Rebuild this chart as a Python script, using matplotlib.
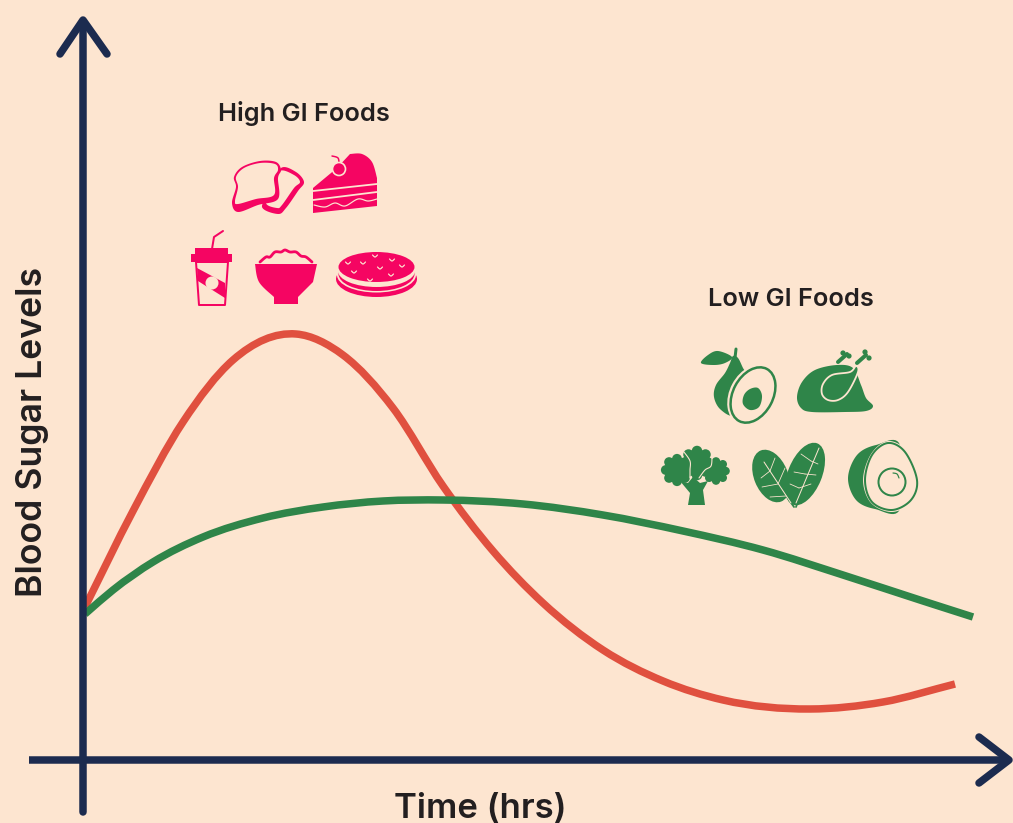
import numpy as np
import matplotlib
matplotlib.use('Agg')
import matplotlib.pyplot as plt
from matplotlib.patches import Circle, Ellipse, Polygon, PathPatch
from matplotlib.path import Path

# Values (hours, blood sugar in chart units)
time_high = [0.02, 0.5, 1.0, 1.5, 2.13, 2.6, 3.1, 3.6, 4.1, 4.6, 5.2, 5.8, 6.4, 7.27, 8.0, 8.72]
level_high = [1.53, 2.49, 3.38, 4.00, 4.26, 4.05, 3.52, 2.74, 2.09, 1.57, 1.10, 0.79, 0.60, 0.51, 0.58, 0.76]
time_low = [0.02, 0.3, 0.7, 1.2, 1.8, 2.4, 3.0, 3.6, 4.4, 5.2, 6.0, 6.8, 7.6, 8.4, 8.9]
level_low = [1.46, 1.70, 1.98, 2.23, 2.42, 2.53, 2.59, 2.60, 2.56, 2.45, 2.29, 2.10, 1.85, 1.59, 1.43]

BG = '#fde5d0'
NAVY = '#1c2b4f'
RED = '#e0503f'
GREEN = '#2f8549'
PINK = '#f50562'
INK = '#231f20'
PX = 0.72  # one pixel in points at dpi 100

plt.rcParams['font.family'] = ['Inter', 'DejaVu Sans']

fig = plt.figure(figsize=(10.13, 8.23), dpi=100, facecolor=BG)


def spline_path(xs, ys):
    # bezier segments through the read values, the curves are smooth splines in the picture
    xs = np.array(xs, dtype=float)
    ys = np.array(ys, dtype=float)
    m = np.gradient(ys, xs)
    verts = [(xs[0], ys[0])]
    codes = [Path.MOVETO]
    for i in range(len(xs) - 1):
        h = xs[i + 1] - xs[i]
        verts += [(xs[i] + h / 3, ys[i] + m[i] * h / 3),
                  (xs[i + 1] - h / 3, ys[i + 1] - m[i + 1] * h / 3),
                  (xs[i + 1], ys[i + 1])]
        codes += [Path.CURVE4, Path.CURVE4, Path.CURVE4]
    return Path(verts, codes)


# chart axes: origin sits on the crossing of the two navy lines
ax = fig.add_axes([0, 0, 1, 1])
ax.set_xlim(-0.83, 9.30)
ax.set_ylim(-0.63, 7.60)
ax.axis('off')
ax.add_patch(PathPatch(spline_path(time_high, level_high), fc='none', ec=RED, lw=7.5 * PX, capstyle='butt'))
ax.add_patch(PathPatch(spline_path(time_low, level_low), fc='none', ec=GREEN, lw=7.5 * PX, capstyle='butt'))

# overlay in picture pixels for the axis arrows, labels and icons
ov = fig.add_axes([0, 0, 1, 1])
ov.set_xlim(0, 1013)
ov.set_ylim(823, 0)
ov.axis('off')
ov.patch.set_alpha(0)


def line(xs, ys, color, w, cap='round', z=6):
    ov.plot(xs, ys, color=color, lw=w * PX, solid_capstyle=cap, solid_joinstyle='round', zorder=z)


def smooth(pts, closed=True, n=12):
    # Catmull-Rom through the outline points, only for the icon shapes
    p = np.array(pts, dtype=float)
    if closed:
        p = np.vstack([p[-1], p, p[0], p[1]])
    else:
        p = np.vstack([p[0], p, p[-1]])
    out = []
    for i in range(1, len(p) - 2):
        for t in np.linspace(0, 1, n, endpoint=False):
            a = p[i - 1]; b = p[i]; c = p[i + 1]; d = p[i + 2]
            out.append(0.5 * (2 * b + (c - a) * t + (2 * a - 5 * b + 4 * c - d) * t ** 2
                              + (3 * b - a - 3 * c + d) * t ** 3))
    out.append(p[-2])
    return np.array(out)


def blob(pts, fc, ec='none', w=0, z=3):
    ov.add_patch(Polygon(smooth(pts), closed=True, fc=fc, ec=ec, lw=w * PX, zorder=z))


def poly(pts, fc, ec='none', w=0, z=3):
    ov.add_patch(Polygon(pts, closed=True, fc=fc, ec=ec, lw=w * PX, zorder=z, joinstyle='round'))


def curve(pts, color, w, z=6):
    s = smooth(pts, closed=False)
    ov.plot(s[:, 0], s[:, 1], color=color, lw=w * PX, solid_capstyle='round', zorder=z)


def ell(x, y, w, h, fc, ec='none', lw=0, ang=0, z=3):
    ov.add_patch(Ellipse((x, y), w, h, angle=ang, fc=fc, ec=ec, lw=lw * PX, zorder=z))


# axis lines and arrow heads
line([83, 83], [22, 812], NAVY, 7.5, z=2)
line([29, 1008], [760, 760], NAVY, 7.5, cap='butt', z=2)
line([60, 83, 107], [54, 20, 54], NAVY, 7.5, z=2)
line([979, 1009, 979], [737, 760, 783], NAVY, 7.5, z=2)

# labels
ov.text(33, 432, 'Blood Sugar Levels', rotation=90, ha='center', va='center',
        fontsize=25.6, fontweight='semibold', color=INK)
ov.text(480, 809, 'Time (hrs)', ha='center', va='center', fontsize=25, fontweight='semibold', color=INK)
ov.text(304, 113, 'High GI Foods', ha='center', va='center', fontsize=18.3, fontweight='semibold', color=INK)
ov.text(791, 299.5, 'Low GI Foods', ha='center', va='center', fontsize=18.3, fontweight='semibold', color=INK)

# bread
blob([(281, 168), (296, 172), (304, 182), (298, 191), (286, 208), (278, 214), (262, 207), (272, 190)], PINK)
blob([(280, 171), (294, 175), (300, 182), (294, 188), (282, 205), (277, 208), (266, 203), (274, 188)], BG)
blob([(232, 203), (236, 187), (234, 177), (242, 167), (260, 161), (276, 162), (281, 170), (278, 178),
      (278, 199), (258, 205), (238, 212)], PINK, z=4)
blob([(235, 201), (238, 187), (236, 177), (244, 168), (260, 163), (275, 164), (278, 170), (274, 178),
      (274, 195), (256, 199), (238, 204)], BG, z=4)

# cake
cake_top = smooth([(350, 154), (362, 154), (372, 162), (377, 178)], closed=False)
poly([(313, 188), (337, 168)] + [tuple(q) for q in cake_top] + [(377, 206), (313, 213)], PINK)
line([313, 377], [191, 184], BG, 1.8)
line([313, 377], [200, 192], BG, 1.8)
curve([(314, 205), (325, 207), (335, 203), (345, 206), (358, 199), (368, 201), (377, 199)], BG, 1.2)
ov.add_patch(Circle((339, 169), 6.5, fc=PINK, ec=BG, lw=1.2, zorder=7))
curve([(339, 164), (338, 158), (332, 156)], PINK, 1.5)

# cup
line([212, 214, 223], [249, 237, 231], PINK, 2)
poly([(195, 248), (228, 248), (228, 254), (232, 254), (232, 262), (191, 262), (191, 254), (195, 254)], PINK)
poly([(196, 262), (228, 262), (225, 305), (199, 305)], BG, ec=PINK, w=2)
poly([(197, 268), (225, 283), (225, 298), (198, 281)], PINK, z=4)
ov.add_patch(Circle((212, 283), 6.5, fc=BG, ec='none', zorder=5))

# bowl
bowl_side = smooth([(255, 264), (259, 282), (274, 297)], closed=False)
poly([(317, 264), (313, 282), (298, 297), (298, 304), (274, 304), (274, 297)] + [tuple(q) for q in bowl_side[::-1]], PINK)
curve([(260, 262), (266, 257), (270, 257), (275, 252), (281, 252), (285, 250), (290, 252), (296, 252),
       (301, 256), (306, 257), (312, 262)], PINK, 2.8)

# pancakes
ell(376.5, 279, 81, 36, PINK)
ell(376.5, 275, 79, 35, BG, z=3.1)
ell(376.5, 274, 76, 34, PINK, z=3.2)
ell(376.5, 271, 77, 32, BG, z=3.3)
ell(376.5, 267, 76, 30, PINK, z=3.4)
for sx, sy in [(348, 263), (363, 263), (375, 256), (392, 260), (402, 266), (380, 268), (354, 272),
               (370, 280), (391, 275)]:
    curve([(sx - 2.5, sy - 1), (sx, sy + 1), (sx + 2.5, sy - 1)], BG, 1.2)

# avocado
line([735, 736], [358, 349], GREEN, 3)
blob([(701, 363), (708, 355), (718, 351), (732, 357), (725, 363), (714, 365)], GREEN)
blob([(733, 356), (738, 358), (743, 368), (748, 378), (736, 392), (733, 415), (720, 409), (714, 397),
      (716, 385), (725, 373), (730, 363)], GREEN)
ell(753, 395, 47, 65, BG, ang=28, z=4)
ell(753, 395, 40, 59, BG, ec=GREEN, lw=2.5, ang=28, z=4)
blob([(758, 388), (762, 396), (759, 407), (750, 410), (743, 404), (744, 395), (750, 389)], GREEN, z=5)

# chicken
blob([(797, 397), (802, 382), (815, 370), (837, 365), (853, 368), (861, 385), (866, 398), (873, 406),
      (866, 411), (845, 412), (812, 412), (801, 408)], GREEN)
blob([(823, 384), (832, 375), (850, 372), (856, 366), (858, 372), (848, 392), (838, 400), (828, 400), (822, 394)],
     GREEN, ec=BG, w=1.8, z=4)
line([838, 847], [362, 354], GREEN, 4)
line([857, 866], [363, 355], GREEN, 4)
for kx, ky in [(843, 353), (849, 356), (865, 352), (869, 358)]:
    ov.add_patch(Circle((kx, ky), 2.6, fc=GREEN, zorder=3))

# broccoli
poly([(680, 481), (688, 483), (693, 477), (700, 483), (708, 481), (703, 490), (705, 505), (688, 505), (690, 493)], GREEN)
heads = [(677, 470, 14), (716, 471, 12), (697, 463, 15)]
for bx, by, br in heads:
    for a in np.arange(0, 360, 45):
        ov.add_patch(Circle((bx + br * 0.8 * np.cos(np.radians(a)), by + br * 0.8 * np.sin(np.radians(a))),
                            br * 0.35, fc=GREEN, zorder=3.3))
    ov.add_patch(Circle((bx, by), br * 0.9, fc=GREEN, zorder=3.3))
curve([(684, 452), (690, 461), (690, 470), (690, 478)], BG, 1.1)
curve([(712, 457), (711, 466), (705, 470), (699, 478)], BG, 1.1)

# spinach
line([787, 794], [497, 507], GREEN, 1.8)
line([801, 796], [493, 507], GREEN, 1.8)
ell(771, 476, 34, 55, GREEN, ang=-22)
ell(805, 474, 34, 66, GREEN, ang=22)
line([764, 791], [462, 503], BG, 1)
line([819, 796], [448, 503], BG, 1)
for x0, y0, x1, y1 in [(770, 471, 761, 478), (770, 471, 775, 458), (778, 484, 762, 487), (778, 484, 785, 468),
                       (786, 496, 770, 497), (811, 461, 801, 454), (811, 461, 818, 464), (805, 474, 794, 472),
                       (805, 474, 816, 475), (799, 488, 811, 484), (799, 488, 790, 484)]:
    line([x0, x1], [y0, y1], BG, 0.8)

# egg
blob([(876, 445), (857, 455), (848, 478), (856, 500), (875, 509), (900, 509), (900, 445)], GREEN)
blob([(888, 441), (907, 451), (919, 480), (912, 502), (892, 512), (871, 503), (863, 480), (871, 454)], BG, z=3.5)
blob([(888, 443), (905, 452), (917, 480), (911, 500), (892, 510), (872, 502), (865, 480), (872, 455)],
     BG, ec=GREEN, w=2, z=3.6)
ov.add_patch(Circle((892, 482), 13.5, fc=BG, ec=GREEN, lw=2 * PX, zorder=4))
curve([(893, 473), (897, 474), (899, 478)], GREEN, 1.2)

fig.savefig('out.png', dpi=100, facecolor=BG)
